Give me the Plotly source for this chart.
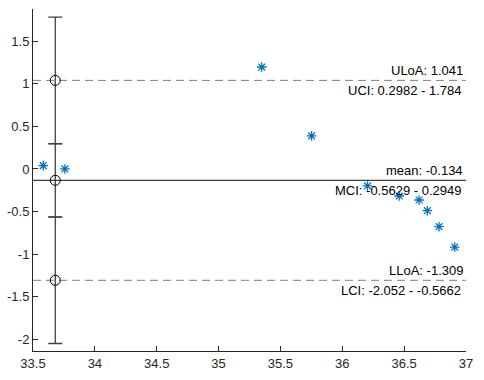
import plotly.graph_objects as go

# Data
mean_vals = [33.583, 33.758, 35.349, 35.752, 36.204, 36.46, 36.621, 36.688, 36.782, 36.909]
diff_vals = [0.039, 0.0, 1.198, 0.389, -0.200, -0.318, -0.365, -0.491, -0.679, -0.918]

stat_names = ["ULoA", "mean", "LLoA"]
ci_names = ["UCI", "MCI", "LCI"]
stat_vals = [1.041, -0.134, -1.309]
ci_low = [0.2982, -0.5629, -2.052]
ci_high = [1.784, 0.2949, -0.5662]

x_ticks = [33.5, 34, 34.5, 35, 35.5, 36, 36.5, 37]
y_ticks = [-2, -1.5, -1, -0.5, 0, 0.5, 1, 1.5]

X_MIN, X_MAX = 33.5, 37
Y_MIN, Y_MAX = -2.14, 1.88
ERR_X = 33.68

AX = "#262626"
FONT = "Liberation Sans, Arial, sans-serif"

fig = go.Figure()

# Reference lines
line_styles = [dict(color="#7f7f7f", width=1, dash="8px,5px"),
               dict(color="#404040", width=1.2),
               dict(color="#7f7f7f", width=1, dash="8px,5px")]
for v, st in zip(stat_vals, line_styles):
    fig.add_trace(go.Scatter(x=[X_MIN, X_MAX], y=[v, v], mode="lines",
                             line=st, hoverinfo="skip", showlegend=False))

# Error bars with circles
fig.add_trace(go.Scatter(
    x=[ERR_X] * 3, y=stat_vals, mode="markers",
    marker=dict(symbol="circle-open", size=10, color="black", line=dict(width=1)),
    error_y=dict(type="data", symmetric=False,
                 array=[h - v for h, v in zip(ci_high, stat_vals)],
                 arrayminus=[v - l for v, l in zip(stat_vals, ci_low)],
                 color="#404040", thickness=1.3, width=7),
    showlegend=False))

# Data points
fig.add_trace(go.Scatter(
    x=mean_vals, y=diff_vals, mode="markers",
    marker=dict(symbol="asterisk-open", size=8, color="#0072BD",
                line=dict(color="#0072BD", width=1.3)),
    showlegend=False))

# Labels
for n, c, v, lo, hi in zip(stat_names, ci_names, stat_vals, ci_low, ci_high):
    fig.add_annotation(x=X_MAX, y=v, xref="x", yref="y", text=f"{n}: {v:g}",
                       showarrow=False, xanchor="right", yanchor="bottom",
                       xshift=-1, yshift=0, font=dict(size=13, color="black", family=FONT))
    fig.add_annotation(x=X_MAX, y=v, xref="x", yref="y", text=f"{c}: {lo:g} - {hi:g}",
                       showarrow=False, xanchor="right", yanchor="top",
                       xshift=-3, yshift=-1, font=dict(size=13, color="black", family=FONT))

fig.update_layout(
    width=484, height=380,
    margin=dict(l=33, r=18, t=9, b=29, autoexpand=False),
    plot_bgcolor="white", paper_bgcolor="white",
    font=dict(family=FONT, size=13, color=AX),
)
fig.update_xaxes(range=[X_MIN, X_MAX], tickvals=x_ticks, ticktext=[f"{t:g}" for t in x_ticks],
                 showgrid=False, zeroline=False, showline=True, linecolor=AX, linewidth=1,
                 ticks="inside", ticklen=5, tickcolor=AX, mirror=False, automargin=False)
fig.update_yaxes(range=[Y_MIN, Y_MAX], tickvals=y_ticks, ticktext=[f"{t:g}" for t in y_ticks],
                 showgrid=False, zeroline=False, showline=True, linecolor=AX, linewidth=1,
                 ticks="inside", ticklen=5, tickcolor=AX, mirror=False, automargin=False)

fig.write_html("out.html", config={"displayModeBar": False},
               post_script="document.body.style.margin='0';document.body.style.overflow='hidden';")
